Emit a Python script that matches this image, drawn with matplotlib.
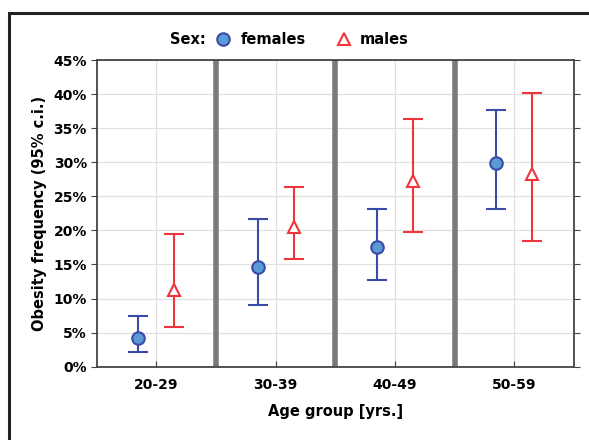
import numpy as np
import matplotlib.pyplot as plt
from matplotlib.patches import Rectangle
from matplotlib.lines import Line2D

plt.rcParams['font.family'] = ['DejaVu Sans']
plt.rcParams['font.weight'] = 'bold'

# data
age_groups = ['20-29', '30-39', '40-49', '50-59']
females = [4.2, 14.6, 17.5, 29.9]
females_low = [2.1, 9.1, 12.7, 23.1]
females_high = [7.4, 21.7, 23.2, 37.6]
males = [11.2, 20.5, 27.3, 28.3]
males_low = [5.8, 15.8, 19.8, 18.4]
males_high = [19.5, 26.3, 36.3, 40.1]

blue_edge = '#3a4aa8'
blue_fill = '#5b9bd5'
red = '#f0353c'

W, H = 589, 440
fig = plt.figure(figsize=(W / 100, H / 100), dpi=100)
ax = fig.add_axes([96.7 / W, 1 - 366.7 / H, (574 - 96.7) / W, (366.7 - 60) / H])

x = np.arange(len(age_groups))
off = 0.15

f = np.array(females)
m = np.array(males)
ax.errorbar(x - off, f, yerr=[f - np.array(females_low), np.array(females_high) - f],
            fmt='o', color=blue_edge, mfc=blue_fill, mec=blue_edge, mew=1.5, ms=9,
            elinewidth=1.5, capsize=7, capthick=1.5, zorder=4)
ax.errorbar(x + off, m, yerr=[m - np.array(males_low), np.array(males_high) - m],
            fmt='^', color=red, mfc='white', mec=red, mew=1.5, ms=9,
            elinewidth=1.5, capsize=7, capthick=1.5, zorder=4)

ax.set_xlim(-0.5, len(age_groups) - 0.5)
ax.set_ylim(0, 45)
ax.set_yticks(np.arange(0, 46, 5))
ax.set_yticklabels([f'{v}%' for v in range(0, 46, 5)], fontsize=10, fontweight='bold')
ax.set_xticks(x)
ax.set_xticklabels(age_groups, fontsize=10, fontweight='bold')
ax.grid(True, color='#e0e0e0', linewidth=0.9, zorder=0)
ax.set_axisbelow(True)
for sep in x[:-1] + 0.5:
    ax.axvline(sep, color='#7a7a7a', linewidth=4, zorder=2)

for s in ax.spines.values():
    s.set_color('#444444')
    s.set_linewidth(1.3)
ax.tick_params(axis='y', direction='out', length=4, color='#444444', right=True, pad=3)
ax.tick_params(axis='x', direction='in', length=4, color='#444444', pad=8)

ax.set_ylabel('Obesity frequency (95% c.i.)', fontsize=10.5, fontweight='bold', labelpad=5)
ax.set_xlabel('Age group [yrs.]', fontsize=10.5, fontweight='bold', labelpad=9)

# legend at top, drawn by hand so the title sits inline
ly = 1 - 39.5 / H
fig.text(170 / W, ly, 'Sex:', fontsize=10.5, fontweight='bold', va='center', ha='left')
fig.add_artist(Line2D([222.7 / W], [ly], marker='o', ls='none', mfc=blue_fill,
                      mec=blue_edge, mew=1.5, ms=9, transform=fig.transFigure))
fig.text(241 / W, ly, 'females', fontsize=10.5, fontweight='bold', va='center', ha='left')
fig.add_artist(Line2D([344 / W], [ly], marker='^', ls='none', mfc='white',
                      mec=red, mew=1.5, ms=9, transform=fig.transFigure))
fig.text(360 / W, ly, 'males', fontsize=10.5, fontweight='bold', va='center', ha='left')

# outer frame (cut off at right and bottom)
fig.patches.append(Rectangle((9 / W, -0.1), 1.2, 1.1 - 13 / H, transform=fig.transFigure,
                             fill=False, edgecolor='#222222', linewidth=2.2))

fig.savefig('out.png', dpi=100)
